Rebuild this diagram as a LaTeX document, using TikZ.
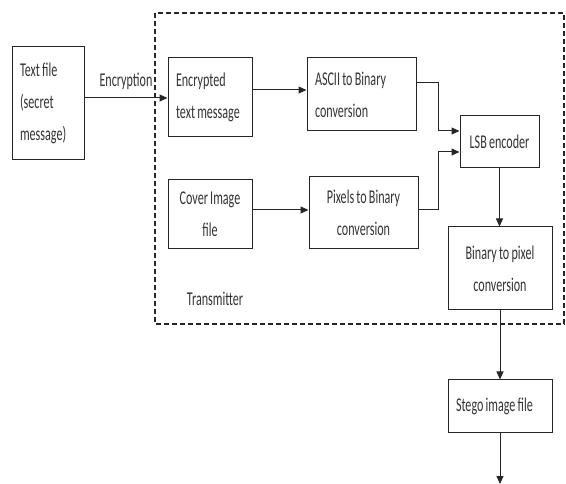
\documentclass[tikz,border=0pt]{standalone}
\usepackage{fontspec}
\setmainfont{Carlito}[FakeStretch=0.62]
\usetikzlibrary{arrows.meta}
\newcommand\boxfont{\fontsize{19.5}{32}\selectfont\fontdimen2\font=2.2pt\fontdimen3\font=0pt\fontdimen4\font=0pt\hyphenpenalty=10000\relax}
\begin{document}
\begin{tikzpicture}[x=1pt,y=-1pt,
    box/.style={draw=black!85,line width=1pt,inner xsep=8pt,inner ysep=4pt,
      font=\boxfont,text=black!80},
    arr/.style={draw=black!85,line width=1pt,-{Triangle[length=8pt,width=7pt]}},
    border/.style={draw=black!85,line width=1.1pt,dash pattern=on 5pt off 3pt}]
  \useasboundingbox (0,0) rectangle (566,484);
  % transmitter frame
  \draw[border] (155,13) rectangle (564,324);
  \node[font=\boxfont,text=black!80] (tx) at (215,299) {Transmitter};
  % blocks
  \node[box,align=flush left,text width=56pt,minimum height=113pt] (textfile) at (48,103.5) {Text file\\(secret\\message)};
  \node[box,align=flush left,text width=68pt,minimum height=79pt] (encrypted) at (210,97.5) {Encrypted\\text message};
  \node[box,align=center,minimum width=84pt,minimum height=69pt] (cover) at (210,214.5) {Cover Image\\file};
  \node[box,align=flush left,text width=93pt,minimum height=73pt] (ascii) at (361.5,94.5) {ASCII to Binary\\conversion};
  \node[box,align=center,minimum width=109pt,minimum height=72pt] (pixels) at (363.5,213) {Pixels to Binary\\conversion};
  \node[box,align=center,minimum width=79pt,minimum height=52pt] (lsb) at (499.5,142) {LSB encoder};
  \node[box,align=center,minimum width=104pt,minimum height=83pt] (binpix) at (500,268.5) {Binary to pixel\\conversion};
  \node[box,align=flush left,text width=88pt,minimum height=52pt] (stego) at (500,406) {Stego image file};
  \coordinate (out) at (500,484);
  % connectors
  \draw[arr] (textfile.east |- 0,98) -- node[above=5pt,font=\boxfont,text=black!80] (enc) {Encryption} (encrypted.west |- 0,98);
  \draw[arr] ([yshift=7.5pt]encrypted.east) -- (ascii.west |- 0,90);
  \draw[arr] ([yshift=4.5pt]cover.east) -- (pixels.west |- 0,210);
  \draw[arr] ([yshift=11.5pt]ascii.east) -- (438,83) -- (438,131) -- (lsb.west |- 0,131);
  \draw[arr] ([yshift=3pt]pixels.east) -- (438,210) -- (438,152) -- (lsb.west |- 0,152);
  \draw[arr] (lsb.south) -- (binpix.north -| lsb.south);
  \draw[arr] (binpix.south) -- (stego.north);
  \draw[arr] (stego.south) -- (out);
\end{tikzpicture}
\end{document}
